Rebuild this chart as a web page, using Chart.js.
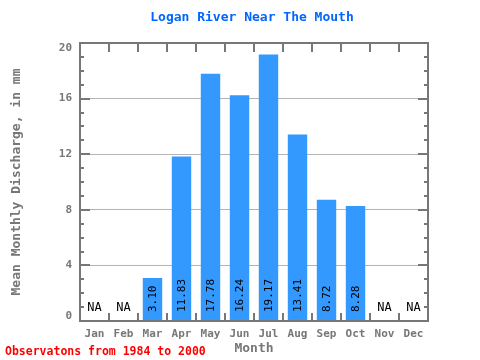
<!DOCTYPE html>
<html><head><meta charset="utf-8">
<script src="https://cdn.jsdelivr.net/npm/chart.js@4"></script>
<style>html,body{margin:0;padding:0;background:#fff}#wrap{width:480px;height:360px}</style>
</head><body><div id="wrap"><canvas id="c" width="480" height="360"></canvas></div>
<script>
const months = ['Jan','Feb','Mar','Apr','May','Jun','Jul','Aug','Sep','Oct','Nov','Dec'];
const discharge = [null, null, 3.10, 11.83, 17.78, 16.24, 19.17, 13.41, 8.72, 8.28, null, null];
const yTickValues = [0, 4, 8, 12, 16, 20];
const chartTitle = 'Logan River Near The Mouth';
const xTitle = 'Month';
const yTitle = 'Mean Monthly Discharge, in mm';
const footnote = 'Observatons from 1984 to 2000';

const MONO = '"DejaVu Sans Mono", "Liberation Mono", monospace';
const AXIS = '#777777';

const decor = {
  id: 'decor',
  afterDraw(chart) {
    const {ctx, chartArea: a, scales: {x, y}} = chart;
    ctx.save();
    ctx.strokeStyle = AXIS;
    ctx.lineWidth = 2;
    // frame
    ctx.strokeRect(a.left, a.top, a.right - a.left, a.bottom - a.top);
    // y minor/major ticks (inward, both sides)
    ctx.beginPath();
    for (let v = y.min + 1; v < y.max; v++) {
      const py = Math.round(y.getPixelForValue(v));
      const len = yTickValues.includes(v) ? 10 : 4;
      ctx.moveTo(a.left - 1, py); ctx.lineTo(a.left + len, py);
      ctx.moveTo(a.right + 1, py); ctx.lineTo(a.right - len, py);
    }
    // x category boundary ticks (inward, top and bottom)
    for (let i = 1; i < months.length; i++) {
      const px = Math.round((x.getPixelForValue(i - 1) + x.getPixelForValue(i)) / 2);
      ctx.moveTo(px, a.bottom); ctx.lineTo(px, a.bottom - 8);
      ctx.moveTo(px, a.top); ctx.lineTo(px, a.top + 9);
    }
    ctx.stroke();

    // y tick labels (kept inside the frame's vertical extent)
    ctx.fillStyle = AXIS;
    ctx.font = 'bold 11px ' + MONO;
    ctx.textAlign = 'right';
    ctx.textBaseline = 'middle';
    y.ticks.forEach(t => {
      let py = y.getPixelForValue(t.value);
      py = Math.min(Math.max(py, a.top + 5), a.bottom - 5);
      ctx.fillText(String(t.value), a.left - 8, py);
    });

    // value labels
    ctx.fillStyle = '#000';
    const base = y.getPixelForValue(0);
    months.forEach((m, i) => {
      const px = x.getPixelForValue(i);
      const v = discharge[i];
      if (v === null) {
        ctx.font = '12px ' + MONO;
        ctx.textAlign = 'center';
        ctx.textBaseline = 'middle';
        ctx.fillText('NA', px, base - 13);
      } else {
        ctx.save();
        ctx.translate(px + 0.5, base - 9);
        ctx.rotate(-Math.PI / 2);
        ctx.font = '11px ' + MONO;
        ctx.textAlign = 'left';
        ctx.textBaseline = 'middle';
        ctx.fillText(v.toFixed(2), 0, 0);
        ctx.restore();
      }
    });

    // title
    ctx.fillStyle = '#0066ff';
    ctx.font = 'bold 13px ' + MONO;
    ctx.textAlign = 'center';
    ctx.textBaseline = 'middle';
    ctx.fillText(chartTitle, (a.left + a.right) / 2 - 2, 18);

    // footnote
    ctx.fillStyle = '#ff0000';
    ctx.font = 'bold 11.5px ' + MONO;
    ctx.textAlign = 'left';
    ctx.fillText(footnote, 5, 352);
    ctx.restore();
  }
};

new Chart(document.getElementById('c'), {
  type: 'bar',
  data: {
    labels: months,
    datasets: [{
      data: discharge,
      backgroundColor: '#3399ff',
      borderWidth: 0,
      barPercentage: 0.67,
      categoryPercentage: 1.0
    }]
  },
  options: {
    responsive: false,
    animation: false,
    devicePixelRatio: 1,
    layout: {padding: {top: 43, right: 52, left: 0, bottom: 0}},
    plugins: {legend: {display: false}, tooltip: {enabled: false}, title: {display: false}},
    scales: {
      x: {
        offset: true,
        grid: {display: false, drawTicks: false, tickLength: 0},
        border: {display: false},
        ticks: {color: AXIS, font: {family: MONO, size: 11, weight: 'bold'}, padding: 7, maxRotation: 0, autoSkip: false},
        title: {display: true, text: xTitle, color: AXIS, font: {family: MONO, size: 13, weight: 'bold'}, padding: {top: 0, bottom: 4}},
        afterFit(s) { s.height = 39; }
      },
      y: {
        min: 0, max: 20,
        z: 1,
        afterBuildTicks(s) { s.ticks = yTickValues.map(v => ({value: v})); },
        grid: {
          drawTicks: false,
          lineWidth: 1,
          color: c => (c.tick && (c.tick.value === 0 || c.tick.value === 20)) ? 'rgba(0,0,0,0)' : '#b4b4b4'
        },
        border: {display: false},
        ticks: {display: false},
        title: {display: true, text: yTitle, color: AXIS, font: {family: MONO, size: 13, weight: 'bold'}, padding: {top: 9, bottom: 0}},
        afterFit(s) { s.width = 80; }
      }
    }
  },
  plugins: [decor]
});
</script></body></html>
